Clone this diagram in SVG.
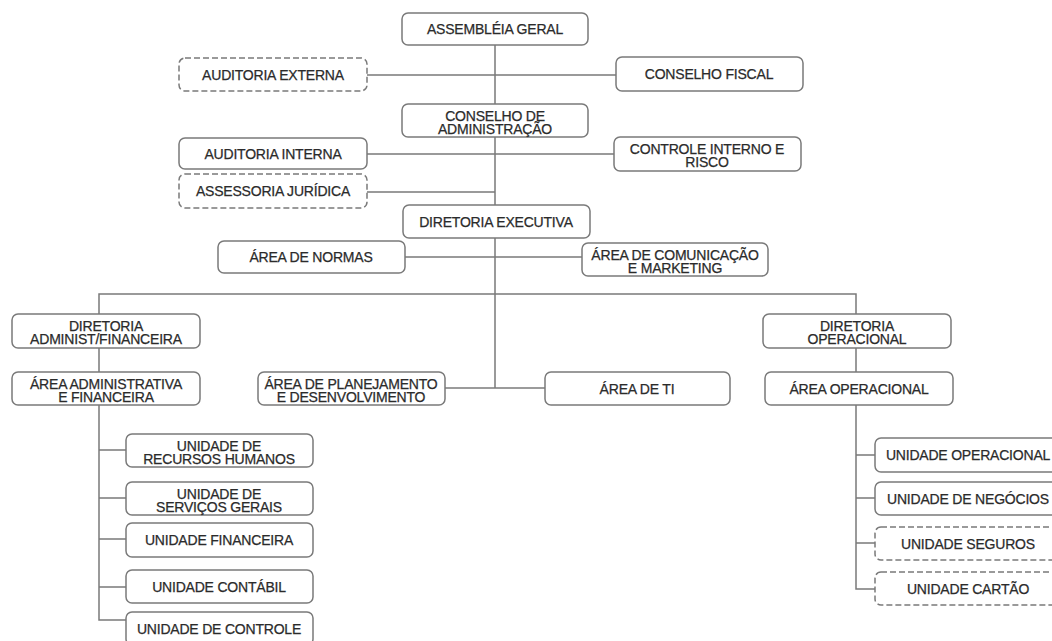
<svg xmlns="http://www.w3.org/2000/svg" width="1052" height="641" viewBox="0 0 1052 641">
<style>
.b{fill:#fff;stroke:#7a7a7a;stroke-width:1.5}
.d{fill:#fff;stroke:#7a7a7a;stroke-width:1.5;stroke-dasharray:6 3}
.t{font-family:"Liberation Sans",Arial,sans-serif;font-size:14px;fill:#2b2b2b;stroke:#2b2b2b;stroke-width:0.25;text-anchor:middle;letter-spacing:-0.2px}
.c{fill:none;stroke:#7a7a7a;stroke-width:1.5}
</style>
<rect width="1052" height="641" fill="#fff"/>
<g id="connectors" class="c">
<path d="M495 45V104M495 137V205M495 238V388"/>
<path d="M367 75H616M367 154H614M367 192H495M405 257H582"/>
<path d="M99 314V294H856V314"/>
<path d="M99 348V372M856 348V372"/>
<path d="M445 388H545"/>
<path d="M99 405V620H126M99 450H126M99 498H126M99 539H126M99 587H126"/>
<path d="M856 405V589H875M856 455H875M856 498H875M856 543H875"/>
</g>
<g id="ag"><rect class="b" x="402" y="13" width="186" height="32" rx="6"/><text class="t" x="495" y="34">ASSEMBLÉIA GERAL</text></g>
<g id="ae"><rect class="d" x="179" y="58" width="188" height="33" rx="6"/><text class="t" x="273" y="80">AUDITORIA EXTERNA</text></g>
<g id="cf"><rect class="b" x="616" y="57" width="187" height="34" rx="6"/><text class="t" x="709" y="79">CONSELHO FISCAL</text></g>
<g id="ca"><rect class="b" x="402" y="104" width="186" height="33" rx="6"/><text class="t" x="495" y="121">CONSELHO DE</text><text class="t" x="495" y="134">ADMINISTRAÇÃO</text></g>
<g id="ai"><rect class="b" x="179" y="138" width="188" height="31" rx="6"/><text class="t" x="273" y="159">AUDITORIA INTERNA</text></g>
<g id="ci"><rect class="b" x="614" y="137" width="187" height="34" rx="6"/><text class="t" x="707" y="154">CONTROLE INTERNO E</text><text class="t" x="707" y="167">RISCO</text></g>
<g id="aj"><rect class="d" x="179" y="174" width="188" height="34" rx="6"/><text class="t" x="273" y="196">ASSESSORIA JURÍDICA</text></g>
<g id="de"><rect class="b" x="403" y="205" width="187" height="33" rx="6"/><text class="t" x="496" y="227">DIRETORIA EXECUTIVA</text></g>
<g id="an"><rect class="b" x="218" y="241" width="187" height="32" rx="6"/><text class="t" x="311" y="262">ÁREA DE NORMAS</text></g>
<g id="acm"><rect class="b" x="582" y="243" width="186" height="33" rx="6"/><text class="t" x="675" y="260">ÁREA DE COMUNICAÇÃO</text><text class="t" x="675" y="273">E MARKETING</text></g>
<g id="daf"><rect class="b" x="12" y="314" width="188" height="34" rx="6"/><text class="t" x="106" y="331">DIRETORIA</text><text class="t" x="106" y="344">ADMINIST/FINANCEIRA</text></g>
<g id="dop"><rect class="b" x="763" y="314" width="188" height="34" rx="6"/><text class="t" x="857" y="331">DIRETORIA</text><text class="t" x="857" y="344">OPERACIONAL</text></g>
<g id="aaf"><rect class="b" x="12" y="372" width="188" height="33" rx="6"/><text class="t" x="106" y="389">ÁREA ADMINISTRATIVA</text><text class="t" x="106" y="402">E FINANCEIRA</text></g>
<g id="apd"><rect class="b" x="258" y="372" width="187" height="33" rx="6"/><text class="t" x="351" y="389">ÁREA DE PLANEJAMENTO</text><text class="t" x="351" y="402">E DESENVOLVIMENTO</text></g>
<g id="ati"><rect class="b" x="545" y="372" width="185" height="33" rx="6"/><text class="t" x="637" y="394">ÁREA DE TI</text></g>
<g id="aop"><rect class="b" x="765" y="372" width="188" height="33" rx="6"/><text class="t" x="859" y="394">ÁREA OPERACIONAL</text></g>
<g id="urh"><rect class="b" x="126" y="434" width="187" height="33" rx="6"/><text class="t" x="219" y="451">UNIDADE DE</text><text class="t" x="219" y="464">RECURSOS HUMANOS</text></g>
<g id="usg"><rect class="b" x="126" y="482" width="187" height="33" rx="6"/><text class="t" x="219" y="499">UNIDADE DE</text><text class="t" x="219" y="512">SERVIÇOS GERAIS</text></g>
<g id="ufi"><rect class="b" x="126" y="523" width="187" height="34" rx="6"/><text class="t" x="219" y="545">UNIDADE FINANCEIRA</text></g>
<g id="uco"><rect class="b" x="126" y="570" width="187" height="33" rx="6"/><text class="t" x="219" y="592">UNIDADE CONTÁBIL</text></g>
<g id="uct"><rect class="b" x="126" y="612" width="187" height="33" rx="6"/><text class="t" x="219" y="634">UNIDADE DE CONTROLE</text></g>
<g id="uop"><rect class="b" x="875" y="438" width="187" height="34" rx="6"/><text class="t" x="968" y="460">UNIDADE OPERACIONAL</text></g>
<g id="une"><rect class="b" x="875" y="482" width="187" height="33" rx="6"/><text class="t" x="968" y="504">UNIDADE DE NEGÓCIOS</text></g>
<g id="use"><rect class="d" x="875" y="527" width="187" height="33" rx="6"/><text class="t" x="968" y="549">UNIDADE SEGUROS</text></g>
<g id="uca"><rect class="d" x="875" y="572" width="187" height="33" rx="6"/><text class="t" x="968" y="594">UNIDADE CARTÃO</text></g>
</svg>
